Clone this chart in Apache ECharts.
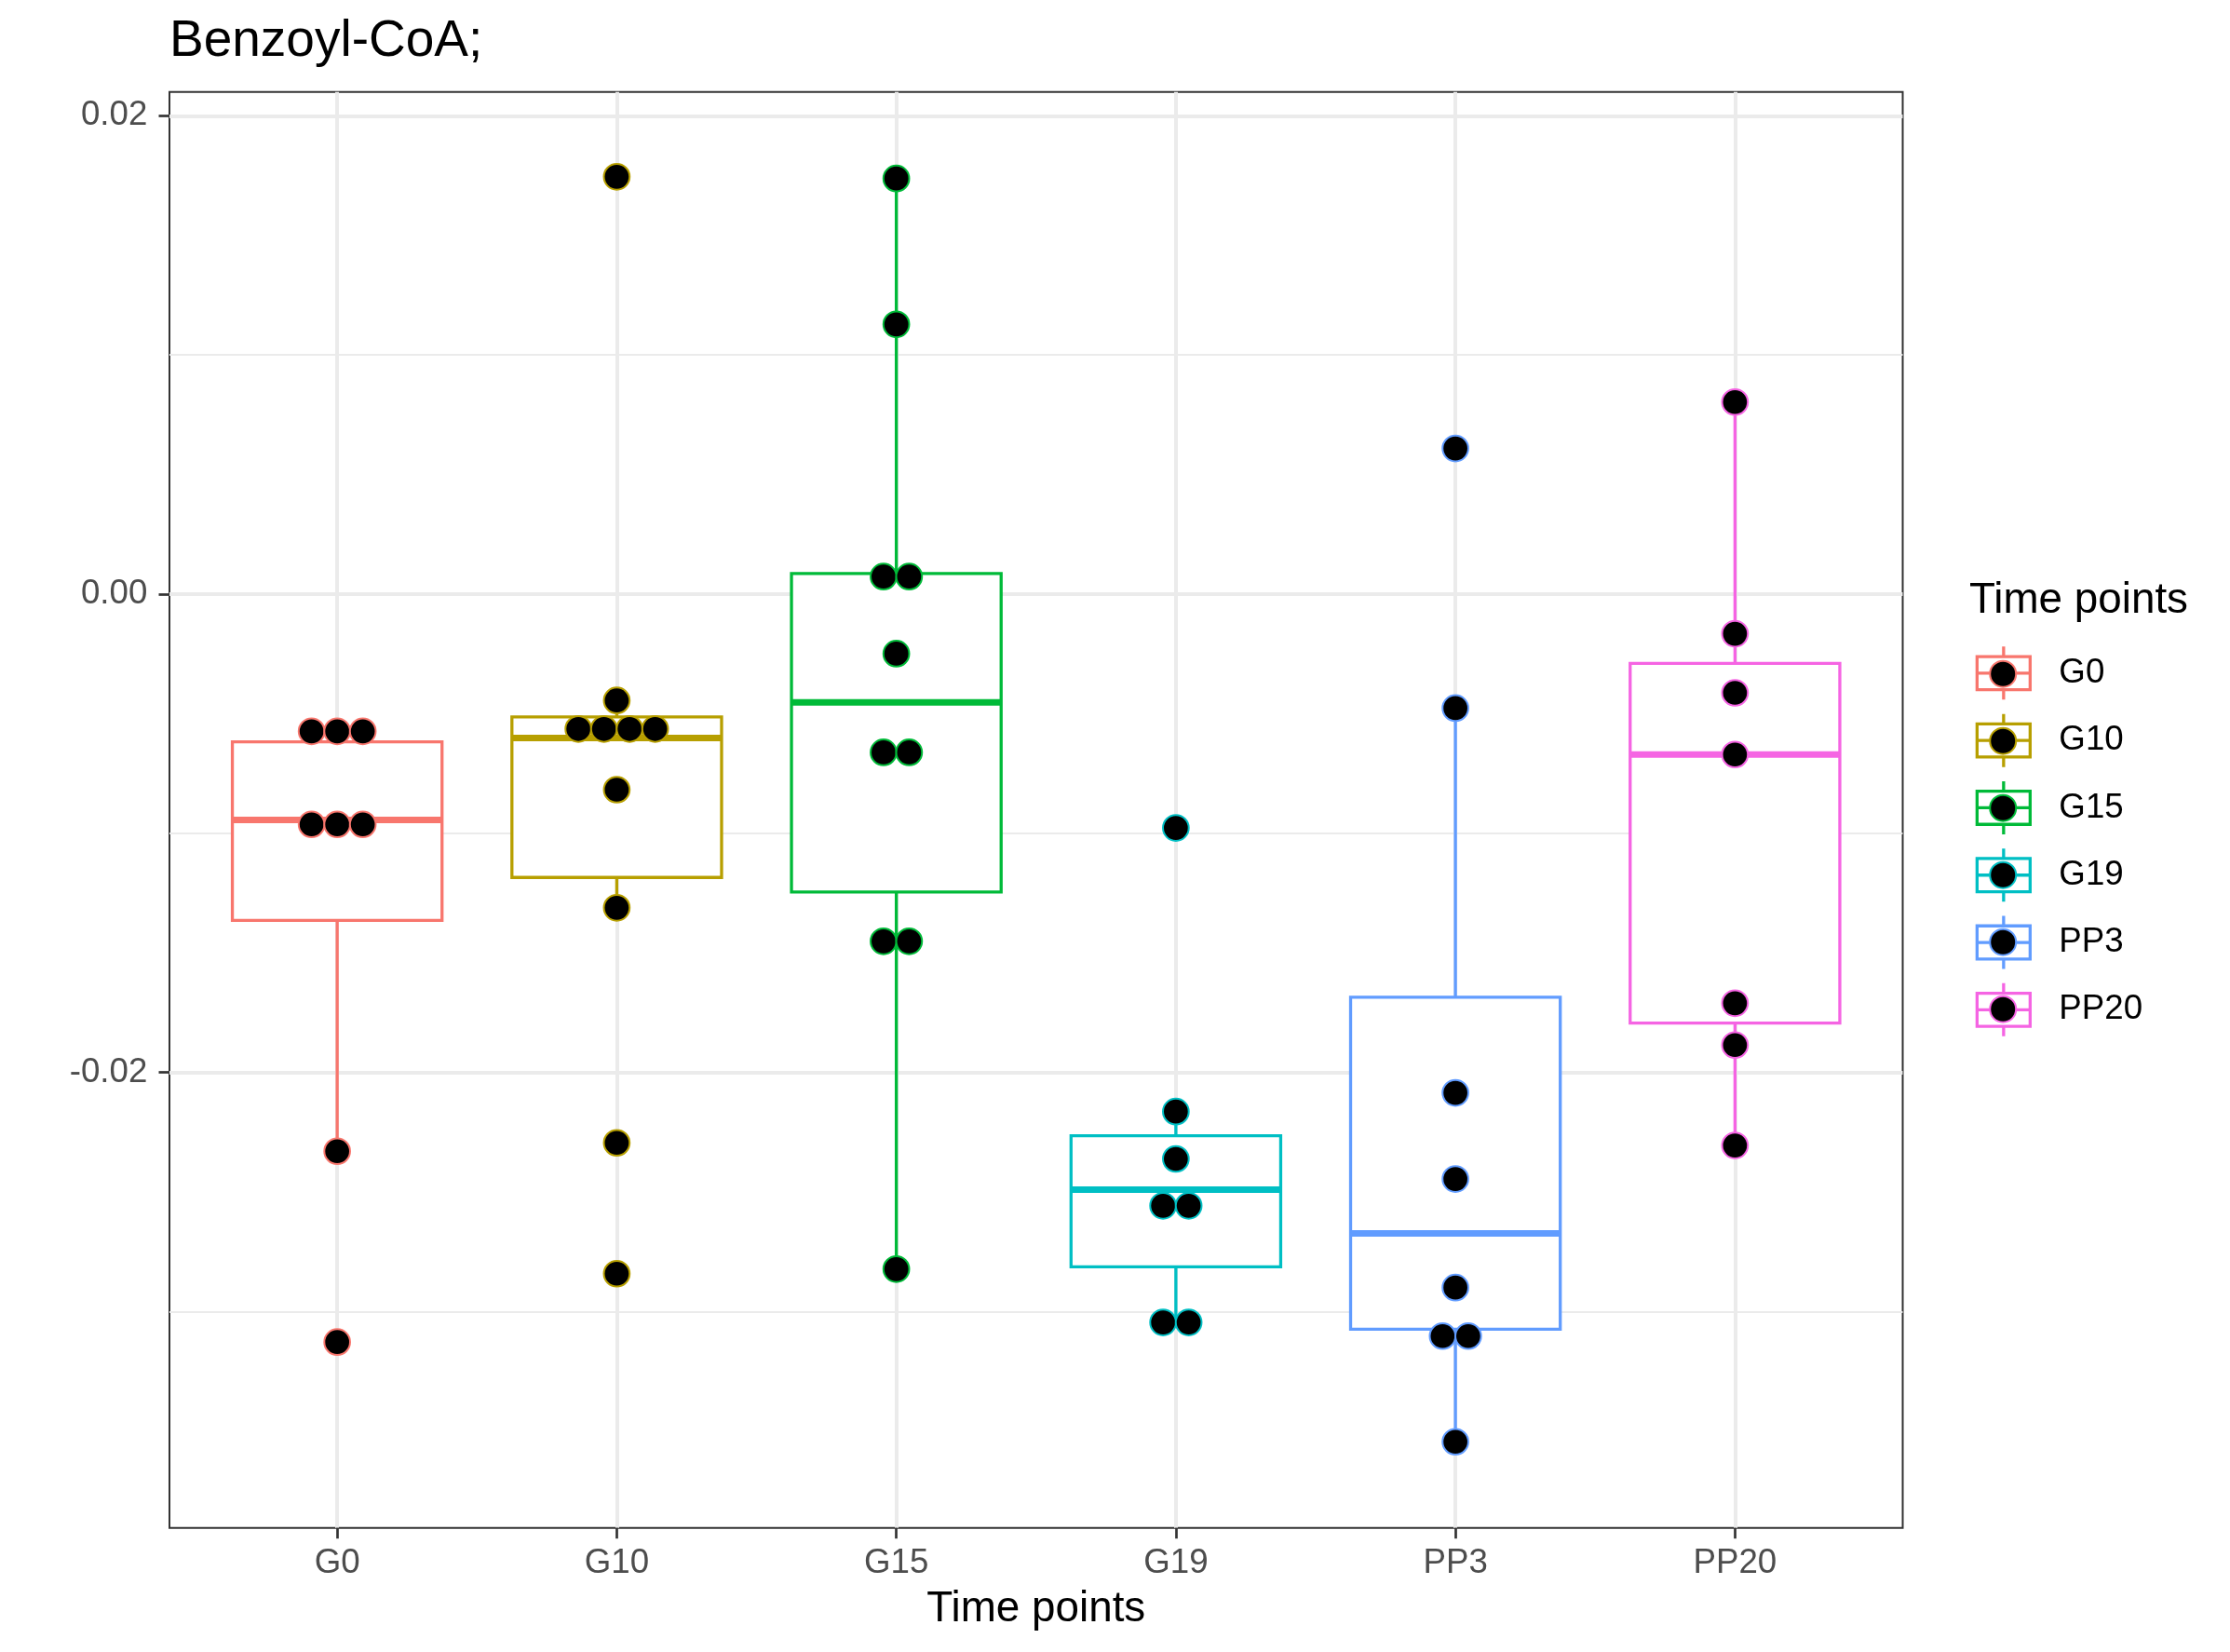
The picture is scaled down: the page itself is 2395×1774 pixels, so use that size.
<!DOCTYPE html>
<html>
<head>
<meta charset="utf-8">
<script src="https://cdn.jsdelivr.net/npm/echarts@6/dist/echarts.min.js"></script>
<style>
html,body{margin:0;padding:0;background:#ffffff;}
#chart{width:2395px;height:1774px;}
</style>
</head>
<body>
<div id="chart"></div>
<script>
// ---------------- data ----------------
const categories = ['G0', 'G10', 'G15', 'G19', 'PP3', 'PP20'];

// box statistics per category
const boxLow    = [-0.02330, -0.01312, -0.02823, -0.03046, -0.03545, -0.02306];
const boxQ1     = [-0.01365, -0.01185, -0.01246, -0.02813, -0.03074, -0.01794];
const boxMedian = [-0.00945, -0.00602, -0.00453, -0.02491, -0.02674, -0.00671];
const boxQ3     = [-0.00618, -0.00514,  0.00086, -0.02265, -0.01686, -0.00290];
const boxHigh   = [-0.00574, -0.00445,  0.01738, -0.02164, -0.00477,  0.00803];

// dot-plot points per category (binned values, repeated when dots sit side by side)
const pointsG0   = [-0.00574, -0.00574, -0.00574, -0.00963, -0.00963, -0.00963, -0.02330, -0.03128];
const pointsG10  = [0.01745, -0.00445, -0.00564, -0.00564, -0.00564, -0.00564, -0.00818, -0.01312, -0.02295, -0.02842];
const pointsG15  = [0.01738, 0.01128, 0.00073, 0.00073, -0.00249, -0.00662, -0.00662, -0.01452, -0.01452, -0.02823];
const pointsG19  = [-0.00978, -0.02164, -0.02362, -0.02558, -0.02558, -0.03046, -0.03046];
const pointsPP3  = [0.00609, -0.00477, -0.02086, -0.02446, -0.02900, -0.03103, -0.03103, -0.03545];
const pointsPP20 = [0.00803, -0.00166, -0.00413, -0.00671, -0.01711, -0.01886, -0.02306];
const groupPoints = [pointsG0, pointsG10, pointsG15, pointsG19, pointsPP3, pointsPP20];

// axis ticks / limits
const yMajorTicks = [-0.02, 0, 0.02];
const yMinorLines = [-0.03, -0.01, 0.01];
const yLimits = [-0.03905, 0.02100];
const xPositions = categories.map((c, i) => i + 1);

// ---------------- style ----------------
const colors = ['#F8766D', '#B79F00', '#00BA38', '#00BFC4', '#619CFF', '#F564E3'];
const FONT = 'Liberation Sans, Arial, Helvetica, sans-serif';
const BOX_HALF = 0.375;      // half of box width in category units
const LINE_W = 3.3;
const MEDIAN_W = 7;
const DOT_R = 13.85;
const DOT_STEP = 27.5;

function boxRenderer(color) {
  return function (params, api) {
    const x = api.value(0);
    const lo = api.coord([x, api.value(1)]);
    const q1 = api.coord([x, api.value(2)]);
    const md = api.coord([x, api.value(3)]);
    const q3 = api.coord([x, api.value(4)]);
    const hi = api.coord([x, api.value(5)]);
    const left = api.coord([x - BOX_HALF, api.value(3)])[0];
    const right = api.coord([x + BOX_HALF, api.value(3)])[0];
    const cx = md[0];
    return {
      type: 'group',
      children: [
        {type: 'line', shape: {x1: cx, y1: hi[1], x2: cx, y2: q3[1]}, style: {stroke: color, lineWidth: LINE_W}},
        {type: 'line', shape: {x1: cx, y1: q1[1], x2: cx, y2: lo[1]}, style: {stroke: color, lineWidth: LINE_W}},
        {type: 'rect', shape: {x: left, y: q3[1], width: right - left, height: q1[1] - q3[1]},
          style: {fill: '#ffffff', stroke: color, lineWidth: LINE_W}},
        {type: 'line', shape: {x1: left, y1: md[1], x2: right, y2: md[1]}, style: {stroke: color, lineWidth: MEDIAN_W}}
      ]
    };
  };
}

function dotRenderer(color) {
  return function (params, api) {
    const p = api.coord([api.value(0), api.value(1)]);
    return {
      type: 'circle',
      shape: {cx: p[0] + api.value(2) * DOT_STEP, cy: p[1], r: DOT_R},
      style: {fill: '#000000', stroke: color, lineWidth: 2}
    };
  };
}

const series = [];
categories.forEach((c, i) => {
  series.push({
    type: 'custom', name: c, coordinateSystem: 'cartesian2d',
    xAxisIndex: 0, yAxisIndex: 0, z: 3, silent: true,
    encode: {x: 0, y: [1, 2, 3, 4, 5]},
    data: [[i + 1, boxLow[i], boxQ1[i], boxMedian[i], boxQ3[i], boxHigh[i]]],
    renderItem: boxRenderer(colors[i])
  });
});
categories.forEach((c, i) => {
  const vals = groupPoints[i];
  const counts = {};
  vals.forEach(v => { counts[v] = (counts[v] || 0) + 1; });
  const seen = {};
  const data = vals.map(v => {
    const k = seen[v] || 0;
    seen[v] = k + 1;
    return [i + 1, v, k - (counts[v] - 1) / 2];
  });
  series.push({
    type: 'custom', name: c, coordinateSystem: 'cartesian2d',
    xAxisIndex: 0, yAxisIndex: 0, z: 4, silent: true,
    encode: {x: 0, y: 1},
    data: data,
    renderItem: dotRenderer(colors[i])
  });
});

const BOX_ICON = 'path://M40,0L40,15M0,15L80,15L80,65L0,65ZM0,40L80,40M40,65L40,80';

const option = {
  animation: false,
  backgroundColor: '#ffffff',
  textStyle: {fontFamily: FONT},
  title: [
    {text: 'Benzoyl-CoA;', left: 182, top: 17, padding: 0,
      textStyle: {fontSize: 55, fontWeight: 'normal', color: '#000000', fontFamily: FONT}},
    {text: 'Time points', left: 2115, top: 622, padding: 0,
      textStyle: {fontSize: 45.8, fontWeight: 'normal', color: '#000000', fontFamily: FONT}}
  ],
  grid: {
    left: 182, top: 98.7, right: 351.5, bottom: 133.3,
    show: true, borderColor: '#333333', borderWidth: 2, backgroundColor: 'transparent',
    containLabel: false, outerBoundsMode: 'none'
  },
  xAxis: {
    type: 'value', min: 0.4, max: 6.6, position: 'bottom',
    axisLine: {show: false, onZero: false},
    axisTick: {show: true, length: 11.5, customValues: xPositions, lineStyle: {color: '#333333', width: 2.7}},
    axisLabel: {customValues: xPositions, formatter: v => categories[Math.round(v) - 1],
      fontSize: 36.7, color: '#4D4D4D', margin: 20, fontFamily: FONT},
    splitLine: {show: true, lineStyle: {color: '#EBEBEB', width: 4}},
    name: 'Time points', nameLocation: 'middle', nameGap: 65,
    nameTextStyle: {fontSize: 45.8, color: '#000000', fontFamily: FONT}
  },
  yAxis: [
    {
      type: 'value', min: yLimits[0], max: yLimits[1], position: 'left',
      axisLine: {show: false, onZero: false},
      axisTick: {show: true, length: 11.5, customValues: yMajorTicks, lineStyle: {color: '#333333', width: 2.7}},
      axisLabel: {customValues: yMajorTicks, formatter: v => v.toFixed(2),
        fontSize: 36.7, color: '#4D4D4D', margin: 23.7, fontFamily: FONT},
      splitLine: {show: true, lineStyle: {color: '#EBEBEB', width: 4}}
    },
    {
      type: 'value', min: yLimits[0], max: yLimits[1], position: 'left',
      axisLine: {show: false, onZero: false},
      axisTick: {show: false, customValues: yMinorLines},
      axisLabel: {show: false, customValues: yMinorLines},
      splitLine: {show: true, lineStyle: {color: '#EBEBEB', width: 2.2}}
    }
  ],
  legend: [
    {
      orient: 'vertical', left: 2121.7, top: 692.7, padding: 0,
      itemWidth: 57, itemHeight: 60, itemGap: 12, selectedMode: false,
      data: categories.map((c, i) => ({name: c, icon: BOX_ICON,
        itemStyle: {color: '#ffffff', borderColor: colors[i], borderWidth: LINE_W}})),
      formatter: '{t|{name}}',
      textStyle: {fontSize: 36.7, color: '#000000', fontFamily: FONT,
        rich: {t: {fontSize: 36.7, color: '#000000', fontFamily: FONT, padding: [0, 0, 0, 26]}}}
    },
    {
      orient: 'vertical', left: 2136.2, top: 708.7, padding: 0,
      itemWidth: 28, itemHeight: 28, itemGap: 42, selectedMode: false,
      data: categories.map((c, i) => ({name: c, icon: 'circle',
        itemStyle: {color: '#000000', borderColor: colors[i], borderWidth: 2}})),
      formatter: function () { return ''; },
      textStyle: {fontSize: 1}
    }
  ],
  series: series
};

const chart = echarts.init(document.getElementById('chart'), null, {renderer: 'canvas', width: 2395, height: 1774});
chart.setOption(option);
</script>
</body>
</html>
